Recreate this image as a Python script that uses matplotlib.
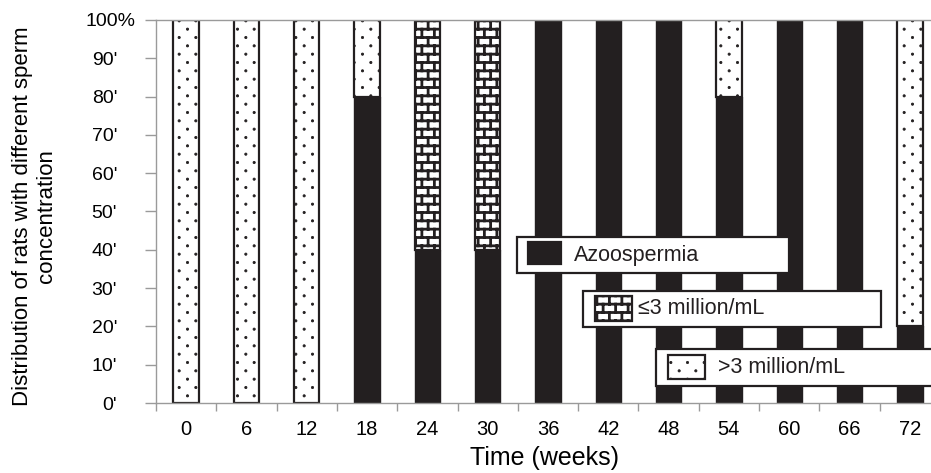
import warnings
import numpy as np
import matplotlib
matplotlib.use("Agg")
import matplotlib.pyplot as plt
import matplotlib.hatch as mhatch
from matplotlib.path import Path
from matplotlib.patches import Rectangle
from matplotlib.transforms import ScaledTranslation

warnings.filterwarnings("ignore")

# data (percent of rats in each group)
weeks = ["0", "6", "12", "18", "24", "30", "36", "42", "48", "54", "60", "66", "72"]
azoospermia = [0, 0, 0, 80, 40, 40, 100, 100, 100, 80, 100, 100, 20]
low_conc = [0, 0, 0, 0, 60, 60, 0, 0, 0, 0, 0, 0, 0]      # <=3 million/mL
high_conc = [100, 100, 100, 20, 0, 0, 0, 0, 0, 20, 0, 0, 80]  # >3 million/mL
yticks = [0, 10, 20, 30, 40, 50, 60, 70, 80, 90, 100]
legend_labels = ["Azoospermia", "≤3 million/mL", ">3 million/mL"]

BLACK = "#231f20"
GREY = "#9a9a9a"


# custom hatch patterns: brick wall ('B') and sparse dots ('D')
class BrickHatch(mhatch.HatchPatternBase):
    def __init__(self, hatch, density):
        pts = []
        if "B" in hatch:
            n, m = 12, 8
            for k in range(n):
                y = (k + 0.5) / n
                pts += [(0, y), (1, y)]
                y2 = (k + 1.5) / n
                for j in range(m):
                    x = (j + 0.25 + 0.5 * (k % 2)) / m
                    if y2 <= 1:
                        pts += [(x, y), (x, y2)]
                    else:
                        pts += [(x, y), (x, 1.0), (x, 0.0), (x, y2 - 1)]
        self.pts = np.array(pts, dtype=float).reshape(-1, 2)
        self.num_vertices = len(self.pts)

    def set_vertices_and_codes(self, vertices, codes):
        vertices[:] = self.pts
        codes[0::2] = Path.MOVETO
        codes[1::2] = Path.LINETO


class DotHatch(mhatch.HatchPatternBase):
    def __init__(self, hatch, density):
        verts, cds = [], []
        if "D" in hatch:
            circ = Path.unit_circle()
            for k in range(12):
                y = (k + 0.5) / 12
                for j in range(6):
                    x = (j + 0.25 + 0.5 * (k % 2)) / 6
                    verts.append(circ.vertices * 0.011 + (x, y))
                    cds.append(circ.codes)
        self.verts = np.concatenate(verts) if verts else np.empty((0, 2))
        self.cds = np.concatenate(cds) if cds else np.empty(0)
        self.num_vertices = len(self.verts)

    def set_vertices_and_codes(self, vertices, codes):
        vertices[:] = self.verts
        codes[:] = self.cds


mhatch._hatch_types.append(BrickHatch)
mhatch._hatch_types.append(DotHatch)

plt.rcParams["font.family"] = ["Liberation Sans", "DejaVu Sans"]
plt.rcParams["hatch.color"] = BLACK

W, H = 931, 473
fig = plt.figure(figsize=(W / 100, H / 100), dpi=100)
ax = fig.add_axes([156 / W, 1 - 403 / H, 784 / W, 383 / H])

x = np.arange(len(weeks))
bw = 0.42


def set_hlw(bars, lw):
    for b in bars:
        try:
            b.set_hatch_linewidth(lw)
        except AttributeError:
            pass


ax.bar(x, azoospermia, bw, color=BLACK, edgecolor=BLACK, linewidth=1.0)
with plt.rc_context({"hatch.linewidth": 2.0}):
    b2 = ax.bar(x, low_conc, bw, bottom=azoospermia, color="white",
                edgecolor=BLACK, linewidth=1.6, hatch="B")
set_hlw(b2, 2.0)
bottom2 = np.array(azoospermia) + np.array(low_conc)
with plt.rc_context({"hatch.linewidth": 0.6}):
    b3 = ax.bar(x, high_conc, bw, bottom=bottom2, color="white",
                edgecolor=BLACK, linewidth=1.6, hatch="D")
set_hlw(b3, 0.6)

ax.set_xlim(-0.5, len(weeks) - 0.5)
ax.set_ylim(0, 100)

ax.set_xticks(x)
ax.set_xticklabels(weeks, fontsize=14.5)
ax.set_xticks(np.arange(len(weeks) + 1) - 0.5, minor=True)
ax.tick_params(axis="x", which="major", length=0, pad=12)
ax.tick_params(axis="x", which="minor", length=6, color=GREY, width=1)

ax.set_yticks(yticks)
ax.set_yticklabels([f"{v}'" for v in yticks[:-1]] + ["100%"], fontsize=14)
ax.tick_params(axis="y", length=8, color=GREY, width=1, pad=7)
shift = ScaledTranslation(-18 / 100, 0, fig.dpi_scale_trans)
for lbl in ax.get_yticklabels()[:-1]:
    lbl.set_transform(lbl.get_transform() + shift)

for s in ["left", "bottom", "top"]:
    ax.spines[s].set_color(GREY)
    ax.spines[s].set_linewidth(1)
ax.spines["right"].set_visible(False)

ax.set_xlabel("Time (weeks)", fontsize=18)
ax.xaxis.set_label_coords((545 - 156) / 784, -(458 - 403) / 383)
ax.xaxis.label.set_va("center")
ax.set_ylabel("Distribution of rats with different sperm\nconcentration",
              fontsize=16, multialignment="center")
ax.yaxis.set_label_coords((57 - 156) / 784, (403 - 216) / 383)

# three separate legend boxes
boxes = [(517, 237, 789, 273), (583, 291, 881, 327), (656, 349, 960, 386)]
handles = [(528, 242, 561, 264), (595, 296, 632, 321), (668, 355, 705, 379)]
text_x = [574, 638, 718]
styles = [dict(facecolor=BLACK, hatch=None), dict(facecolor="white", hatch="B"),
          dict(facecolor="white", hatch="D")]
hlws = [1.0, 2.0, 0.6]


def fx(px):
    return px / W


def fy(py):
    return 1 - py / H


for i, lab in enumerate(legend_labels):
    x0, y0, x1, y1 = boxes[i]
    fig.add_artist(Rectangle((fx(x0), fy(y1)), fx(x1) - fx(x0), fy(y0) - fy(y1),
                             transform=fig.transFigure, facecolor="white",
                             edgecolor=BLACK, linewidth=1.6, zorder=5))
    hx0, hy0, hx1, hy1 = handles[i]
    with plt.rc_context({"hatch.linewidth": hlws[i]}):
        hp = Rectangle((fx(hx0), fy(hy1)), fx(hx1) - fx(hx0), fy(hy0) - fy(hy1),
                       transform=fig.transFigure, edgecolor=BLACK,
                       linewidth=1.6, zorder=6, **styles[i])
    set_hlw([hp], hlws[i])
    fig.add_artist(hp)
    fig.text(fx(text_x[i]), fy((y0 + y1) / 2), lab, fontsize=15.5,
             ha="left", va="center", color=BLACK, zorder=7)

fig.savefig("out.png", dpi=100)
